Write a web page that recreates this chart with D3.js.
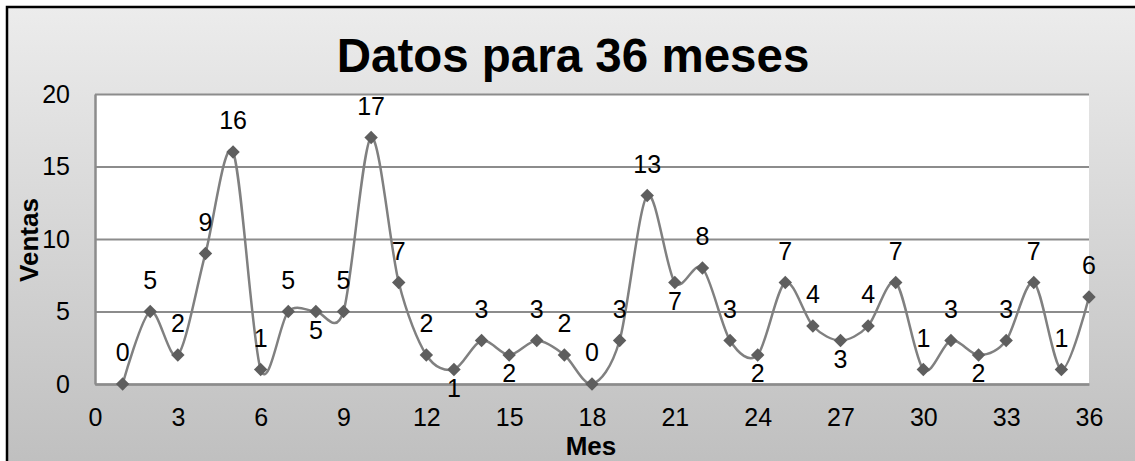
<!DOCTYPE html>
<html>
<head>
<meta charset="utf-8">
<script src="https://cdn.jsdelivr.net/npm/d3@7"></script>
<style>
  html, body { margin: 0; padding: 0; background: #ffffff; }
  svg { display: block; }
  text { font-family: "Liberation Sans", Arial, sans-serif; fill: #000; }
</style>
</head>
<body>
<svg id="chart" width="1135" height="461"></svg>
<script>
// Monthly sales, months 1..36
const months = d3.range(1, 37);
const ventas = [0, 5, 2, 9, 16, 1, 5, 5, 5, 17, 7, 2, 1, 3, 2, 3, 2, 0,
                3, 13, 7, 8, 3, 2, 7, 4, 3, 4, 7, 1, 3, 2, 3, 7, 1, 6];
// Months whose value label sits under the marker
const labelsBelow = [8, 13, 15, 21, 24, 27, 32];
const xTicks = d3.range(0, 37, 3);
const yTicks = [0, 5, 10, 15, 20];

const W = 1135, H = 461;
const plot = { left: 95, right: 1089, top: 94, bottom: 384 };
const FONT = "Liberation Sans, Arial, sans-serif";

const svg = d3.select("#chart");
const defs = svg.append("defs");
const grad = defs.append("linearGradient")
  .attr("id", "bg").attr("x1", 0).attr("y1", 0).attr("x2", 0).attr("y2", 1);
grad.append("stop").attr("offset", "0%").attr("stop-color", "#ececec");
grad.append("stop").attr("offset", "100%").attr("stop-color", "#bdbdbd");

// Chart area background and frame
svg.append("rect").attr("x", 7).attr("y", 7).attr("width", W + 20).attr("height", H + 20)
  .attr("fill", "url(#bg)").attr("stroke", "#000").attr("stroke-width", 2.5);

const x = d3.scaleLinear().domain([0, 36]).range([plot.left, plot.right]);
const y = d3.scaleLinear().domain([0, 20]).range([plot.bottom, plot.top]);

// Plot area
svg.append("rect")
  .attr("x", plot.left).attr("y", plot.top)
  .attr("width", plot.right - plot.left).attr("height", plot.bottom - plot.top)
  .attr("fill", "#ffffff");

// Horizontal gridlines
svg.append("g").attr("transform", `translate(${plot.left},0)`)
  .call(d3.axisLeft(y).tickValues(yTicks).tickSize(-(plot.right - plot.left)).tickFormat(""))
  .call(g => g.select(".domain").remove())
  .call(g => g.selectAll("line").attr("stroke", "#8c8c8c").attr("stroke-width", 2));

// Y axis line and labels
const yAxis = svg.append("g").attr("transform", `translate(${plot.left},0)`)
  .call(d3.axisLeft(y).tickValues(yTicks).tickSize(0).tickPadding(25));
yAxis.select(".domain").attr("stroke", "#8c8c8c").attr("stroke-width", 2.5);
yAxis.selectAll("text").attr("font-size", 25).style("font-family", FONT);

// X axis line and labels
const xAxis = svg.append("g").attr("transform", `translate(0,${plot.bottom})`)
  .call(d3.axisBottom(x).tickValues(xTicks).tickSize(0).tickPadding(24));
xAxis.select(".domain").attr("stroke", "#8c8c8c").attr("stroke-width", 2.5);
xAxis.selectAll("text").attr("font-size", 25).style("font-family", FONT);

// Smoothed series line
const data = months.map((m, i) => ({ m, v: ventas[i] }));
const line = d3.line().x(d => x(d.m)).y(d => y(d.v)).curve(d3.curveCardinal.tension(0.1));
svg.append("path").datum(data)
  .attr("d", line).attr("fill", "none")
  .attr("stroke", "#808080").attr("stroke-width", 2.5);

// Diamond markers
const diamond = d3.symbol().type(d3.symbolDiamond2).size(115);
svg.append("g").selectAll("path").data(data).join("path")
  .attr("d", diamond)
  .attr("transform", d => `translate(${x(d.m)},${y(d.v)})`)
  .attr("fill", "#5e5e5e");

// Value labels
svg.append("g").selectAll("text").data(data).join("text")
  .attr("x", d => x(d.m))
  .attr("y", d => y(d.v) + (labelsBelow.includes(d.m) ? 27 : -23))
  .attr("text-anchor", "middle")
  .attr("font-size", 25)
  .text(d => d.v);

// Titles
svg.append("text").attr("x", 573).attr("y", 72)
  .attr("text-anchor", "middle").attr("font-size", 47.5).attr("font-weight", "bold")
  .text("Datos para 36 meses");
svg.append("text").attr("x", 591).attr("y", 455)
  .attr("text-anchor", "middle").attr("font-size", 26).attr("font-weight", "bold")
  .text("Mes");
svg.append("text").attr("transform", "translate(38,240) rotate(-90)")
  .attr("text-anchor", "middle").attr("font-size", 26).attr("font-weight", "bold")
  .text("Ventas");
</script>
</body>
</html>
